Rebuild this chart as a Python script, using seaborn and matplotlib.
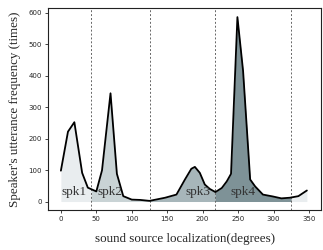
import numpy as np
import pandas as pd
import seaborn as sns
import matplotlib
matplotlib.use("Agg")
import matplotlib.pyplot as plt

# data
angles = [0, 10, 19, 30, 38, 50, 58, 70, 79, 88, 100, 112, 125, 147, 163, 175,
          184, 189, 196, 203, 210, 218, 227, 234, 240, 249, 257, 267, 274, 285,
          299, 311, 323, 335, 347]
counts = [98, 222, 252, 91, 44, 32, 99, 344, 88, 17, 6, 5, 2, 12, 22, 70,
          104, 110, 91, 54, 40, 30, 43, 64, 88, 586, 415, 70, 48, 22,
          16, 10, 12, 17, 35]
boundaries = [43, 125, 218, 325]
speakers = ["spk1", "spk2", "spk3", "spk4"]
label_x = [19, 69, 193, 257]
region_colors = ["#e9edef", "#c9d3d5", "#a7b6ba", "#7e9297", "#e9edef"]

sns.set_theme(style="ticks")
plt.rcParams["font.family"] = ["DejaVu Sans"]

df = pd.DataFrame({"angle": angles, "count": counts})

fig = plt.figure(figsize=(3.23, 2.5), dpi=100)
ax = fig.add_axes([0.149, 0.16, 0.845, 0.808])

x = np.array(angles, dtype=float)
y = np.array(counts, dtype=float)
edges = [x[0]] + boundaries + [x[-1]]
for i in range(len(edges) - 1):
    lo, hi = edges[i], edges[i + 1]
    inner = x[(x > lo) & (x < hi)]
    xs = np.concatenate([[lo], inner, [hi]])
    ys = np.interp(xs, x, y)
    ax.fill_between(xs, 0, ys, color=region_colors[i], lw=0, zorder=1)

sns.lineplot(data=df, x="angle", y="count", color="black", lw=1.3, ax=ax, zorder=3)

for b in boundaries:
    ax.axvline(b, color="#666666", lw=0.7, ls=(0, (2, 2)), zorder=2)

for name, lx in zip(speakers, label_x):
    ax.text(lx, 12, name, ha="center", va="bottom", fontsize=9.5,
            family=["Liberation Serif"], color="#333333", zorder=4)

ax.set_xlim(-18, 367)
ax.set_ylim(-27, 615)
ax.set_xticks([0, 50, 100, 150, 200, 250, 300, 350])
ax.set_yticks([0, 100, 200, 300, 400, 500, 600])
ax.tick_params(labelsize=5, length=2.5, width=0.6, pad=2)
for s in ax.spines.values():
    s.set_visible(True)
    s.set_linewidth(0.8)
    s.set_color("#222222")

ax.set_xlabel("sound source localization(degrees)", family=["Liberation Serif"],
              fontsize=9.4, labelpad=8)
ax.set_ylabel("Speaker's utterance frequency (times)", family=["Liberation Serif"],
              fontsize=9.4, labelpad=5)

fig.savefig("out.png", dpi=100)
